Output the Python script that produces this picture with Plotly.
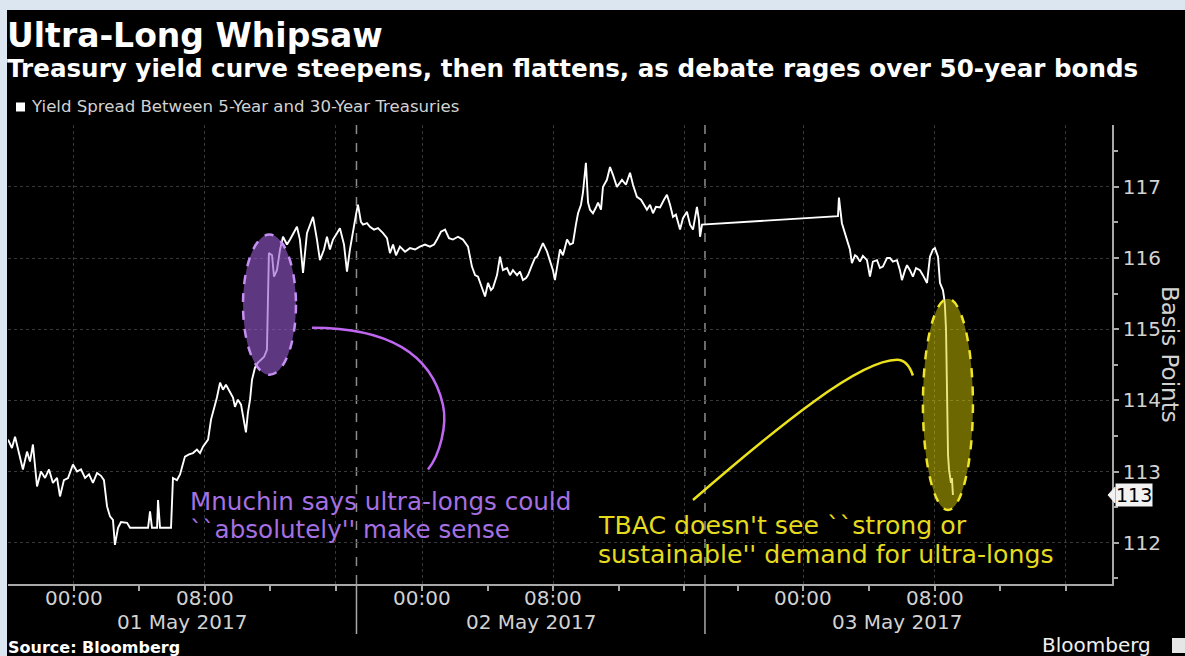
import plotly.graph_objects as go

# ---------------- data (trading-session hours, basis points) ----------------
# x axis is a compressed "session clock": 0 = 20:00 on 30 Apr; the overnight gaps
# between sessions are removed (breaks at 21.25 and 42.5 hours).
hours = [
    0.00, 0.24, 0.43, 0.67, 0.91, 1.16, 1.34, 1.52, 1.77, 2.01, 2.26, 2.50, 2.74, 2.99,
    3.17, 3.41, 3.66, 3.96, 4.21, 4.45, 4.70, 4.94, 5.18, 5.43, 5.67, 5.85, 6.04, 6.22,
    6.40, 6.52, 6.71, 6.89, 7.26, 7.44, 8.05, 8.54, 8.66, 8.78, 9.09, 9.15, 9.27, 9.94,
    10.06, 10.30, 10.49, 10.67, 10.79, 11.04, 11.28, 11.52, 11.71, 11.89, 12.07, 12.20,
    12.38, 12.56, 12.74, 12.93, 13.11, 13.29, 13.54, 13.72, 13.84, 14.02, 14.21, 14.39,
    14.51, 14.63, 14.76, 14.88, 15.06, 15.24, 15.43, 15.61, 15.79, 15.85, 15.91, 16.10,
    16.22, 16.40, 16.59, 16.77, 17.01, 17.20, 17.44, 17.62, 17.80, 17.99, 18.23, 18.41,
    18.60, 18.84, 19.02, 19.27, 19.45, 19.63, 19.82, 20.06, 20.24, 20.49, 20.67, 20.85,
    21.04, 21.22, 21.34,
    21.52, 21.65, 21.89, 22.07, 22.32, 22.56, 22.87, 23.11, 23.29, 23.48, 23.66, 23.90,
    24.21, 24.51, 24.82, 25.12, 25.43, 25.73, 25.98, 26.16, 26.40, 26.65, 26.89, 27.13,
    27.44, 27.74, 28.05, 28.29, 28.48, 28.66, 28.90, 29.09, 29.27, 29.45, 29.57, 29.82,
    30.00, 30.18, 30.43, 30.61, 30.79, 31.04, 31.22, 31.40, 31.59, 31.71, 31.95, 32.13,
    32.26, 32.44, 32.62, 32.87, 33.05, 33.23, 33.35, 33.48, 33.66, 33.84, 34.09, 34.27,
    34.45, 34.63, 34.76, 34.94, 35.06, 35.24, 35.37, 35.49, 35.67, 35.85, 35.98, 36.16,
    36.28, 36.52, 36.71, 36.89, 37.13, 37.32, 37.44, 37.68, 37.93, 38.11, 38.35, 38.60,
    38.78, 38.96, 39.15, 39.33, 39.51, 39.76, 40.00, 40.18, 40.37, 40.55, 40.73, 40.98,
    41.16, 41.40, 41.59, 41.77, 42.01, 42.13, 42.20, 42.32,
    50.61, 50.67, 50.85, 51.04, 51.22, 51.34, 51.46, 51.65, 51.77, 51.95, 52.13, 52.38,
    52.56, 52.74, 52.99, 53.17, 53.35, 53.60, 53.78, 53.96, 54.21, 54.39, 54.51, 54.70,
    54.82, 55.00, 55.18, 55.37, 55.61, 55.79, 56.04, 56.22, 56.40, 56.52, 56.71, 56.83,
    57.01, 57.07, 57.13, 57.20, 57.26, 57.32, 57.38, 57.50, 57.56, 57.62,
]
spread_bp = [
    113.45, 113.33, 113.49, 113.24, 113.03, 113.28, 113.14, 113.38, 112.79, 113.00, 112.91, 113.03, 112.84, 112.91,
    112.65, 112.88, 112.91, 113.10, 113.00, 113.03, 112.91, 112.96, 112.84, 112.98, 112.94, 112.88, 112.51, 112.37,
    112.32, 111.97, 112.21, 112.29, 112.28, 112.21, 112.21, 112.21, 112.44, 112.21, 112.21, 112.60, 112.21, 112.21,
    112.91, 112.88, 112.96, 113.10, 113.21, 113.24, 113.26, 113.31, 113.26, 113.35, 113.40, 113.45,
    113.73, 113.87, 114.04, 114.25, 114.15, 114.22, 114.11, 114.04, 113.91, 114.01, 113.94, 113.73,
    113.55, 113.83, 114.01, 114.29, 114.46, 114.53, 114.57, 114.61, 114.71, 115.41, 116.07, 116.04,
    115.74, 115.83, 116.12, 116.30, 116.19, 116.26, 116.37, 116.44, 116.26, 115.79, 116.35, 116.47,
    116.58, 116.26, 115.97, 116.12, 116.30, 116.12, 116.26, 116.35, 116.42, 116.19, 115.81, 116.12,
    116.40, 116.61, 116.75,
    116.51, 116.47, 116.49, 116.44, 116.40, 116.42, 116.35, 116.28, 116.07, 116.19, 116.04, 116.16,
    116.09, 116.14, 116.12, 116.16, 116.19, 116.16, 116.19, 116.26, 116.37, 116.40, 116.28, 116.26,
    116.30, 116.26, 116.16, 115.88, 115.76, 115.74, 115.58, 115.46, 115.65, 115.55, 115.58, 115.76,
    116.02, 115.83, 115.86, 115.76, 115.83, 115.76, 115.81, 115.69, 115.72, 115.76, 115.90, 116.00,
    116.02, 116.12, 116.21, 116.09, 115.97, 115.83, 115.69, 115.90, 116.12, 116.04, 116.26, 116.19,
    116.21, 116.47, 116.63, 116.75, 116.92, 117.34, 116.78, 116.68, 116.63, 116.71, 116.78, 116.68,
    117.00, 117.10, 117.28, 117.17, 117.00, 117.06, 117.10, 117.03, 117.20, 117.03, 116.86, 116.82,
    116.75, 116.68, 116.75, 116.63, 116.72, 116.71, 116.82, 116.89, 116.75, 116.58, 116.61, 116.40,
    116.56, 116.65, 116.47, 116.40, 116.72, 116.54, 116.30, 116.47,
    116.59, 116.85, 116.49, 116.33, 116.21, 116.12, 115.93, 116.04, 116.02, 115.95, 116.03, 115.97,
    115.74, 115.95, 115.97, 115.86, 115.88, 116.00, 116.00, 115.95, 115.97, 115.83, 115.69, 115.83,
    115.90, 115.83, 115.74, 115.86, 115.83, 115.76, 115.65, 116.02, 116.12, 116.14, 116.02, 115.65,
    115.55, 115.46, 115.34, 114.99, 114.01, 113.24, 113.03, 112.84, 112.91, 112.67,
]

tick_hours = [4, 12, 20, 25.25, 33.25, 41.25, 48.5, 56.5, 64.5]
tick_labels = ["00:00", "08:00", "", "00:00", "08:00", "", "00:00", "08:00", ""]
minor_tick_hours = [8, 16, 29.25, 37.25, 44.5, 52.5, 60.5]
session_breaks = [21.25, 42.5]
date_labels = ["01 May 2017", "02 May 2017", "03 May 2017"]
date_label_hours = [10.6, 31.9, 54.2]
y_ticks = [112, 113, 114, 115, 116, 117]

series_name = "Yield Spread Between 5-Year and 30-Year Treasuries"
title = "Ultra-Long Whipsaw"
subtitle = "Treasury yield curve steepens, then flattens, as debate rages over 50-year bonds"
note_mnuchin = ["Mnuchin says ultra-longs could", "``absolutely'' make sense"]
note_tbac = ["TBAC doesn't see ``strong or", "sustainable'' demand for ultra-longs"]

# ---------------- layout helpers ----------------
W, H = 1185, 656
L, R, T, B = 8, 1112, 125, 584
X_RANGE = [0, 67.32]
Y_RANGE = [111.42, 117.87]


def px(x):
    return (x - L) / (R - L)


def py(y):
    return (B - y) / (B - T)


FONT = "DejaVu Sans"
AXIS_COL = "#a8a8a8"
TXT_COL = "#d2d2d2"
GRID_COL = "#383838"
PURPLE = "#c067f2"
PURPLE_TXT = "#a470e2"
YELLOW = "#ece21c"
YELLOW_TXT = "#e4da1e"

fig = go.Figure()
fig.add_trace(go.Scatter(x=hours, y=spread_bp, mode="lines",
                         line=dict(color="#ffffff", width=1.9),
                         name=series_name, hoverinfo="x+y"))

shapes = []
# light frame round the black panel (top and left)
shapes.append(dict(type="rect", xref="paper", yref="paper", x0=px(0), x1=px(W),
                   y0=py(10), y1=py(0), fillcolor="#dce6f1", line=dict(width=0)))
shapes.append(dict(type="rect", xref="paper", yref="paper", x0=px(0), x1=px(7),
                   y0=py(H), y1=py(0), fillcolor="#dce6f1", line=dict(width=0)))
# session breaks
for b in session_breaks:
    shapes.append(dict(type="line", xref="x", yref="paper", x0=b, x1=b, y0=0, y1=1,
                       line=dict(color="#8c8c8c", width=1.5, dash="dash"), layer="below"))
    shapes.append(dict(type="line", xref="x", yref="paper", x0=b, x1=b, y0=0, y1=py(634),
                       line=dict(color=AXIS_COL, width=1.5)))
# highlight ellipses
shapes.append(dict(type="circle", xref="x", yref="y", x0=14.33, x1=17.56, y0=114.36, y1=116.33,
                   fillcolor="rgba(150,88,205,0.62)", line=dict(color="#c590f2", width=2.5, dash="dash")))
shapes.append(dict(type="circle", xref="x", yref="y", x0=55.79, x1=58.84, y0=112.46, y1=115.43,
                   fillcolor="rgba(215,205,0,0.5)", line=dict(color="#eee42a", width=2.5, dash="dash")))
# connector curves
shapes.append(dict(type="path", xref="x", yref="y",
                   path="M 18.54,115.02 C 22.68,115.02 25.73,114.74 26.52,113.94 "
                        "C 26.80,113.66 26.34,113.24 25.61,113.03",
                   line=dict(color=PURPLE, width=2.5)))
shapes.append(dict(type="path", xref="x", yref="y",
                   path="M 41.77,112.60 C 47.07,113.66 51.95,114.57 54.21,114.57 "
                        "C 54.70,114.57 55.00,114.47 55.18,114.35",
                   line=dict(color=YELLOW, width=2.5)))
# legend swatch
shapes.append(dict(type="rect", xref="paper", yref="paper", x0=px(16), x1=px(25),
                   y0=py(111.5), y1=py(102.5), fillcolor="#ffffff", line=dict(width=0)))
# last-value tag pointer
last_value = spread_bp[-1]
shapes.append(dict(type="path", xref="paper", yref="y",
                   path=f"M {px(1108)},{last_value} L {px(1115)},{last_value + 0.11} "
                        f"L {px(1115)},{last_value - 0.11} Z",
                   fillcolor="#f2f2f2", line=dict(color="#f2f2f2", width=1)))
# Bloomberg logo block
shapes.append(dict(type="rect", xref="paper", yref="paper", x0=px(1172), x1=px(1185),
                   y0=py(653), y1=py(638), fillcolor="#e6e6e6", line=dict(width=0)))

ann = []


def txt(text, x, y, size, color, bold=False, xanchor="left", xref="paper", yref="paper", **kw):
    ann.append(dict(text=f"<b>{text}</b>" if bold else text, x=x, y=y, xref=xref, yref=yref,
                    xanchor=xanchor, yanchor="middle", showarrow=False,
                    font=dict(family=FONT, size=size, color=color), **kw))


txt(title, px(5), py(36), 33, "#ffffff", bold=True)
txt(subtitle, px(5), py(69), 24.6, "#ffffff", bold=True)
txt(series_name, px(29), py(107), 16.6, TXT_COL)
txt("Source: Bloomberg", px(6), py(647), 16, "#ffffff", bold=True)
txt("Bloomberg", px(1040), py(645), 20, "#f0f0f0")
txt("Basis Points", px(1170), py(354), 23, TXT_COL, xanchor="center", textangle=90)
# time-of-day tick labels (drawn at the axis tick positions)
for h, lab in zip(tick_hours, tick_labels):
    if lab:
        txt(lab, h, py(598), 20, TXT_COL, xanchor="center", xref="x")
for lab, h in zip(date_labels, date_label_hours):
    txt(lab, h, py(622), 20, TXT_COL, xanchor="center", xref="x")
# event notes
txt(note_mnuchin[0], 11.0, 112.58, 24.6, PURPLE_TXT, xref="x", yref="y")
txt(note_mnuchin[1], 11.0, 112.19, 24.6, PURPLE_TXT, xref="x", yref="y")
txt(note_tbac[0], 35.85, 112.24, 25.2, YELLOW_TXT, xref="x", yref="y")
txt(note_tbac[1], 35.85, 111.83, 25.2, YELLOW_TXT, xref="x", yref="y")
# last value tag
ann.append(dict(text=f"{round(last_value):d}", x=px(1115), y=last_value, xref="paper", yref="y",
                xanchor="left", yanchor="middle", showarrow=False, bgcolor="#f2f2f2",
                borderpad=0, font=dict(family=FONT, size=19, color="#000000")))

fig.update_layout(
    width=W, height=H,
    margin=dict(l=L, r=W - R, t=T, b=H - B, pad=0),
    paper_bgcolor="#000000", plot_bgcolor="#000000",
    showlegend=False,
    font=dict(family=FONT, color=TXT_COL, size=20),
    shapes=shapes, annotations=ann,
    xaxis=dict(range=X_RANGE, tickmode="array", tickvals=tick_hours, ticktext=tick_labels,
               showticklabels=False,
               ticks="outside", ticklen=5, tickwidth=1.5, tickcolor=AXIS_COL,
               showline=True, linecolor=AXIS_COL, linewidth=1.5,
               showgrid=True, gridcolor=GRID_COL, griddash="dot", gridwidth=1,
               zeroline=False,
               minor=dict(tickmode="array", tickvals=minor_tick_hours, ticks="outside",
                          ticklen=5, tickwidth=1.5, tickcolor=AXIS_COL, showgrid=False)),
    yaxis=dict(range=Y_RANGE, side="right", tickmode="array", tickvals=y_ticks,
               ticks="outside", ticklen=5, tickwidth=1.5, tickcolor=AXIS_COL,
               showline=True, linecolor=AXIS_COL, linewidth=1.5,
               showgrid=True, gridcolor=GRID_COL, griddash="dot", gridwidth=1,
               zeroline=False, tickfont=dict(family=FONT, size=20, color=TXT_COL),
               minor=dict(dtick=0.5, tick0=111.5, ticks="outside", ticklen=4, tickwidth=1.5,
                          tickcolor=AXIS_COL, showgrid=False)),
)

fig.write_html("out.html")
